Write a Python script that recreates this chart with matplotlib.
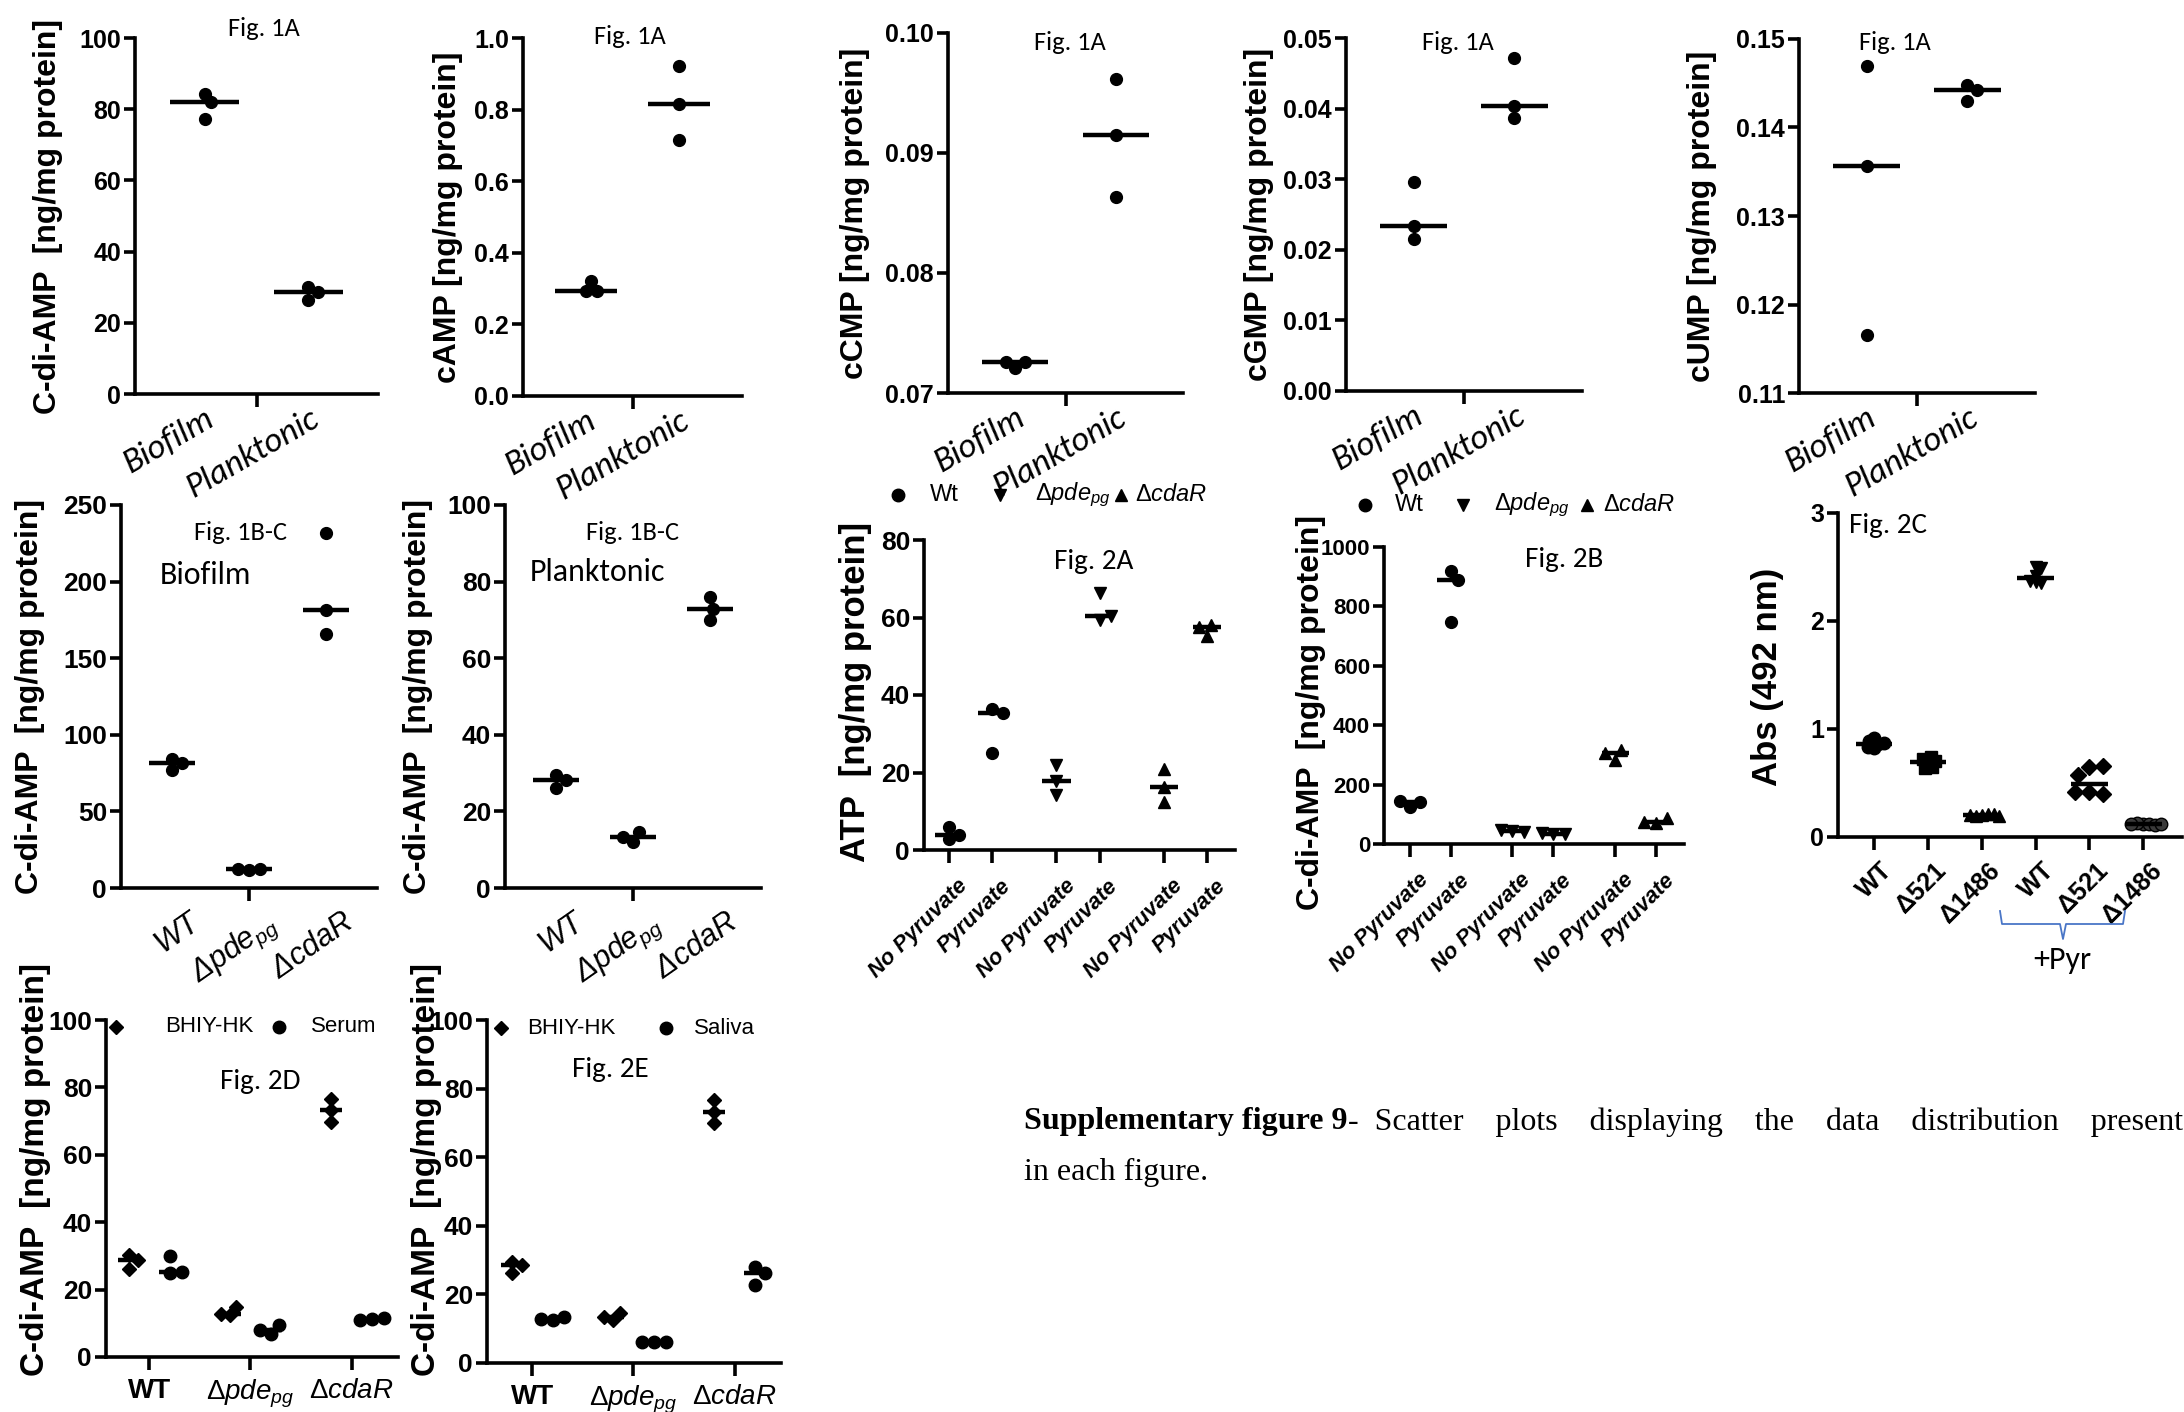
import matplotlib
matplotlib.use('Agg')
import matplotlib.pyplot as plt
import matplotlib.transforms as mtrans
from matplotlib import font_manager
from matplotlib.lines import Line2D
import numpy as np

W, H, DPI = 2184, 1412, 100

# ---------------- data ----------------
# Fig. 1A  (Biofilm, Planktonic)
groups_1a = ['Biofilm', 'Planktonic']
cdiamp_1a = [[84.4, 81.9, 77.2], [30.1, 28.6, 26.5]]
camp_1a = [[0.293, 0.321, 0.294], [0.922, 0.815, 0.716]]
ccmp_1a = [[0.0721, 0.0726, 0.0726], [0.0962, 0.0915, 0.0863]]
cgmp_1a = [[0.0296, 0.0234, 0.0215], [0.0472, 0.0404, 0.0387]]
cump_1a = [[0.1469, 0.1357, 0.1165], [0.1448, 0.1442, 0.1430]]

# Fig. 1B-C  (WT, dpde, dcdaR)
biofilm_1bc = [[76.9, 84.5, 81.5], [12.0, 12.5, 12.3], [231.5, 181.4, 165.5]]
plankton_1bc = [[29.6, 26.1, 28.3], [12.0, 14.5, 13.2], [76.1, 70.0, 72.8]]

# Fig. 2A ATP and Fig. 2B c-di-AMP, (no pyruvate, pyruvate) per strain
atp_wt = [[2.8, 6.0, 3.9], [36.3, 35.4, 25.1]]
atp_pde = [[21.9, 17.9, 14.2], [66.2, 59.4, 60.5]]
atp_cdar = [[20.8, 16.3, 12.5], [55.2, 58.1, 57.6]]
cda_wt = [[126, 140, 145], [918, 888, 749]]
cda_pde = [[45, 40, 48], [35, 33, 36]]
cda_cdar = [[283, 317, 305], [70, 87, 75]]
pyr_labels = ['No Pyruvate', 'Pyruvate'] * 3

# Fig. 2C absorbance
labels_2c = ['WT', '\u0394521', '\u03941486', 'WT', '\u0394521', '\u03941486']
abs_2c = [[0.82, 0.92, 0.86, 0.89, 0.83, 0.87],
          [0.69, 0.74, 0.72, 0.65, 0.70, 0.64],
          [0.20, 0.21, 0.19, 0.20, 0.21, 0.19],
          [2.50, 2.49, 2.42, 2.36, 2.35, 2.37],
          [0.65, 0.66, 0.57, 0.42, 0.40, 0.42],
          [0.12, 0.12, 0.13, 0.12, 0.11, 0.12]]

# Fig. 2D / 2E
bhiy_2d = [[26.2, 30.2, 28.7], [12.4, 14.7, 12.9], [76.7, 69.8, 73.3]]
serum_2d = [[29.9, 25.0, 25.2], [6.9, 9.4, 8.1], [11.4, 11.6, 11.1]]
bhiy_2e = [[26.3, 29.5, 28.5], [12.5, 14.6, 13.4], [76.7, 70.0, 73.1]]
saliva_2e = [[12.5, 13.4, 12.9], [6.1, 6.0, 6.2], [28.0, 22.7, 26.1]]

# ---------------- fonts ----------------
installed = {f.name for f in font_manager.fontManager.ttflist}
NARROW = 'Liberation Sans Narrow' if 'Liberation Sans Narrow' in installed else 'Liberation Sans'
ARIAL = 'Liberation Sans'
CAL = 'Carlito' if 'Carlito' in installed else 'Lato'

plt.rcParams['mathtext.fontset'] = 'custom'
plt.rcParams['mathtext.rm'] = ARIAL
plt.rcParams['mathtext.it'] = ARIAL + ':italic'
plt.rcParams['mathtext.bf'] = ARIAL + ':bold'

PDE = '\u0394$\\mathit{pde}_{\\mathit{pg}}$'
CDAR = '\u0394$\\mathit{cdaR}$'
YLAB = 'C-di-AMP  [ng/mg protein]'

fig = plt.figure(figsize=(W / DPI, H / DPI), dpi=DPI)
fig.patch.set_facecolor('white')
SPW = 2.6


def make_axes(box, xlim, ylim, yticks, fmt, tsize=18, tfont=None):
    x0, x1, yt, yb = box
    ax = fig.add_axes([x0 / W, 1 - yb / H, (x1 - x0) / W, (yb - yt) / H])
    ax.set_xlim(xlim)
    ax.set_ylim(ylim)
    for s in ('top', 'right'):
        ax.spines[s].set_visible(False)
    for s in ('left', 'bottom'):
        ax.spines[s].set_linewidth(SPW)
    ax.set_yticks(yticks)
    ax.set_yticklabels([fmt.format(t) for t in yticks],
                       fontfamily=tfont or NARROW, fontweight='bold', fontsize=tsize)
    ax.tick_params(axis='y', length=8, width=SPW, pad=2)
    ax.tick_params(axis='x', length=9, width=SPW)
    ax.box = box
    return ax


def ylabel(ax, px, text, cy=None, size=23):
    x0, x1, yt, yb = ax.box
    if cy is None:
        cy = (yt + yb) / 2
    ax.text((px - x0) / (x1 - x0), (yb - cy) / (yb - yt), text, transform=ax.transAxes,
            rotation=90, ha='center', va='center', fontfamily=ARIAL,
            fontweight='bold', fontsize=size)


def swarm(ax, xc, vals, sep):
    # spread points sideways so markers closer than `sep` pixels do not stack
    pts = ax.transData.transform(np.column_stack([np.full(len(vals), xc), vals]))
    placed = []
    for y in pts[:, 1]:
        cands = [0.0]
        for px, py in placed:
            dy = abs(y - py)
            if dy < sep:
                dx = np.sqrt(sep ** 2 - dy ** 2)
                cands += [px + dx, px - dx]
        cands.sort(key=abs)
        for c in cands:
            if all((c - px) ** 2 + (y - py) ** 2 >= sep ** 2 - 1e-6 for px, py in placed):
                break
        placed.append((c, y))
    xpix = ax.transData.transform((xc, 0))[0]
    inv = ax.transData.inverted()
    return np.array([inv.transform((xpix + c, 0))[0] for c, _ in placed])


def dots(ax, xc, vals, marker='o', ms=8.5, half=0.33, sep=None, fc='black'):
    sep = sep if sep is not None else ms * DPI / 72 * 0.95
    xs = swarm(ax, xc, vals, sep)
    ax.plot(xs, vals, ls='none', marker=marker, ms=ms, mfc=fc, mec='black',
            mew=1, clip_on=False, zorder=3)
    med = np.median(vals)
    ax.plot([xc - half, xc + half], [med, med], color='black', lw=3.2,
            solid_capstyle='butt', clip_on=False, zorder=4)


def cat_labels(ax, pos, labels, tick_at, rot, size, family, style='italic',
               weight='normal', dx=0, dy=0):
    ax.set_xticks(pos)
    ax.set_xticklabels(labels, rotation=rot, ha='right', rotation_mode='anchor',
                       fontfamily=family, fontstyle=style, fontweight=weight,
                       fontsize=size)
    for p, t in zip(pos, ax.xaxis.get_major_ticks()):
        t.tick1line.set_visible(p in tick_at)
    off = mtrans.ScaledTranslation(dx / DPI, -dy / DPI, fig.dpi_scale_trans)
    for lab in ax.get_xticklabels():
        lab.set_transform(lab.get_transform() + off)


def fig_text(ax, px, py, text, size=18, family=None, **kw):
    x0, x1, yt, yb = ax.box
    ax.text((px - x0) / (x1 - x0), (yb - py) / (yb - yt), text, transform=ax.transAxes,
            ha='center', va='center', fontfamily=family or CAL, fontsize=size, **kw)


def key_row(y, items, size):
    # one-line key: (marker x, marker, marker size, text x, text)
    for mx, m, ms, tx, label in items:
        fig.add_artist(Line2D([mx / W], [1 - y / H], ls='none', marker=m, ms=ms,
                              color='black', transform=fig.transFigure))
        fig.text(tx / W, 1 - y / H, label, fontfamily=NARROW, fontsize=size,
                 ha='left', va='center')


# ---------------- row 1 : Fig. 1A ----------------
row1 = [
    ((135, 378, 38, 394), cdiamp_1a, (0, 100), [0, 20, 40, 60, 80, 100], '{:.0f}', 48, YLAB, 264, 28),
    ((523, 742, 38, 396), camp_1a, (0, 1.0), [0, 0.2, 0.4, 0.6, 0.8, 1.0], '{:.1f}', 448,
     'cAMP [ng/mg protein]', 630, 37),
    ((948, 1183, 33, 393), ccmp_1a, (0.07, 0.10), [0.07, 0.08, 0.09, 0.10], '{:.2f}', 855,
     'cCMP [ng/mg protein]', 1070, 42),
    ((1346, 1582, 38, 391), cgmp_1a, (0, 0.05), [0, 0.01, 0.02, 0.03, 0.04, 0.05], '{:.2f}', 1259,
     'cGMP [ng/mg protein]', 1458, 43),
    ((1799, 2035, 39, 393), cump_1a, (0.11, 0.15), [0.11, 0.12, 0.13, 0.14, 0.15], '{:.2f}', 1702,
     'cUMP [ng/mg protein]', 1895, 43),
]
for box, data, ylim, yt, fmt, lx, lab, tx, ty in row1:
    ax = make_axes(box, (-0.67, 1.67), ylim, yt, fmt, tsize=18)
    for i, vals in enumerate(data):
        dots(ax, i, vals)
    cat_labels(ax, [0, 0.5, 1], [groups_1a[0], '', groups_1a[1]], [0.5], 30, 25, CAL,
               dx=0, dy=-8)
    ylabel(ax, lx, lab)
    fig_text(ax, tx, ty, 'Fig. 1A', size=19)

# ---------------- row 2 : Fig. 1B-C ----------------
strains = ['WT', PDE, CDAR]
for box, data, yt, lx, name, nx, ny, fx in [
        ((121, 377, 505, 888), biofilm_1bc, [0, 50, 100, 150, 200, 250], 30, 'Biofilm', 205, 575, 240),
        ((505, 761, 505, 888), plankton_1bc, [0, 20, 40, 60, 80, 100], 418, 'Planktonic', 598, 572, 632)]:
    ax = make_axes(box, (-0.66, 2.66), (0, yt[-1]), yt, '{:.0f}', tsize=19)
    for i, vals in enumerate(data):
        dots(ax, i, vals, half=0.3)
    cat_labels(ax, [0, 1, 2], strains, [1], 35, 22, ARIAL, dx=16, dy=2)
    ylabel(ax, lx, YLAB)
    fig_text(ax, fx, 532, 'Fig. 1B-C', size=19)
    fig_text(ax, nx, ny, name, size=23)

# ---------------- Fig. 2A / 2B ----------------
pos6 = [0, 1, 2.5, 3.5, 5, 6]
for box, series, xlim, yt, lx, lcy, tsize, figlab, fx, fy in [
        ((924, 1235, 540, 850), (atp_wt, atp_pde, atp_cdar), (-0.58, 6.65), [0, 20, 40, 60, 80],
         856, 692, 19, 'Fig. 2A', 1094, 562),
        ((1384, 1684, 547, 844), (cda_wt, cda_pde, cda_cdar), (-0.63, 6.68),
         [0, 200, 400, 600, 800, 1000], 1311, 712, 16, 'Fig. 2B', 1564, 560)]:
    ax = make_axes(box, xlim, (0, yt[-1]), yt, '{:.0f}', tsize=tsize)
    k = 0
    for marker, pair in zip(['o', 'v', '^'], series):
        for vals in pair:
            dots(ax, pos6[k], vals, marker=marker, ms=8.5 if marker == 'o' else 9, half=0.33)
            k += 1
    cat_labels(ax, pos6, pyr_labels, pos6, 45, 16, ARIAL, weight='bold', dx=8, dy=8)
    if figlab == 'Fig. 2A':
        ylabel(ax, lx, 'ATP  [ng/mg protein]', cy=lcy, size=25)
    else:
        ylabel(ax, lx, YLAB, cy=lcy, size=23)
    fig_text(ax, fx, fy, figlab, size=21)

key_row(495, [(898, 'o', 9, 930, 'Wt'), (1000, 'v', 9, 1035, PDE), (1121, '^', 9, 1135, CDAR)], 17)
key_row(505, [(1365, 'o', 9, 1395, 'Wt'), (1463, 'v', 9, 1494, PDE), (1587, '^', 9, 1603, CDAR)], 17)

# ---------------- Fig. 2C ----------------
box = (1838, 2182, 513, 837)
ax = make_axes(box, (-0.67, 5.72), (0, 3), [0, 1, 2, 3], '{:.0f}', tsize=18, tfont=ARIAL)
markers_2c = ['o', 's', '^', 'v', 'D', 'o']
fills_2c = ['black', 'black', 'black', 'black', 'black', '#3a3a3a']
for i, vals in enumerate(abs_2c):
    m = markers_2c[i]
    dots(ax, i, vals, marker=m, ms=9 if m != 'D' else 8, half=0.34,
         sep=6 if i != 4 else 14, fc=fills_2c[i])
cat_labels(ax, range(6), labels_2c, list(range(6)), 45, 18, ARIAL, style='normal',
           weight='bold', dx=6, dy=4)
ylabel(ax, 1767, 'Abs (492 nm)', cy=677, size=25)
fig_text(ax, 1888, 525, 'Fig. 2C', size=21)
bx = np.array([2000, 2002, 2060, 2063, 2066, 2123, 2125])
by = np.array([911, 924, 924, 939, 924, 924, 911])
fig.add_artist(Line2D(bx / W, 1 - by / H, color='#4a76c7', lw=1.3, transform=fig.transFigure))
fig.text(2062 / W, 1 - 960 / H, '+Pyr', fontfamily=CAL, fontsize=23, ha='center', va='center')

# ---------------- Fig. 2D / 2E ----------------
for box, base, media, xlim, lx, figlab, fx, fy in [
        ((106, 398, 1020, 1357), bhiy_2d, serum_2d, (-0.43, 2.46), 36, 'Fig. 2D', 260, 1082),
        ((487, 781, 1020, 1363), bhiy_2e, saliva_2e, (-0.45, 2.46), 426, 'Fig. 2E', 610, 1070)]:
    ax = make_axes(box, xlim, (0, 100), [0, 20, 40, 60, 80, 100], '{:.0f}', tsize=19)
    for i in range(3):
        dots(ax, i - 0.2, base[i], marker='D', ms=7.5, half=0.11)
        dots(ax, i + 0.2, media[i], marker='o', ms=9, half=0.11)
    ax.set_xticks([0, 1, 2])
    ax.set_xticklabels(['WT', PDE, CDAR], fontfamily=NARROW, fontsize=20)
    ax.get_xticklabels()[0].set_fontweight('bold')
    ax.tick_params(axis='x', pad=6)
    ylabel(ax, lx, YLAB, cy=1170, size=24)
    fig_text(ax, fx, fy, figlab, size=21)

key_row(1027, [(116, 'D', 7, 165, 'BHIY-HK'), (279, 'o', 9, 311, 'Serum')], 16)
key_row(1028, [(501, 'D', 7, 527, 'BHIY-HK'), (666, 'o', 9, 694, 'Saliva')], 16)

# ---------------- caption (justified first line) ----------------
t1 = fig.text(1024 / W, 1 - 1122 / H, 'Supplementary figure 9', fontfamily='Liberation Serif',
              fontweight='bold', fontsize=23, ha='left', va='center')
plt.annotate('-  Scatter    plots    displaying    the    data    distribution    presented',
             xy=(1, 0.5), xycoords=t1, va='center', ha='left',
             fontfamily='Liberation Serif', fontsize=23, annotation_clip=False)
fig.text(1024 / W, 1 - 1172 / H, 'in each figure.', fontfamily='Liberation Serif',
         fontsize=23, ha='left', va='center')

fig.savefig('out.png', dpi=DPI, facecolor='white')
